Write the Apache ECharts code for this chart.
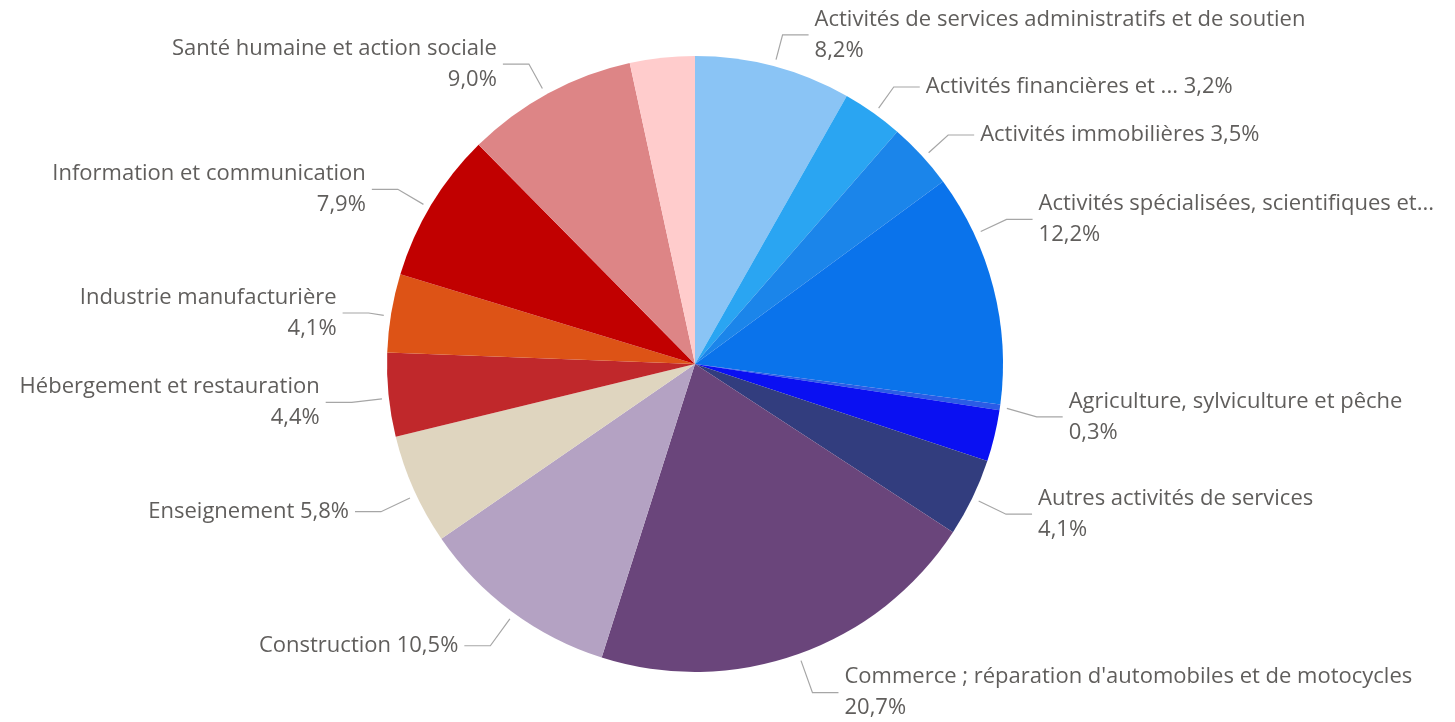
<!DOCTYPE html>
<html>
<head>
<meta charset="utf-8">
<script src="https://cdn.jsdelivr.net/npm/echarts@6/dist/echarts.min.js"></script>
<style>
html,body{margin:0;padding:0;background:#fff;}
#chart{width:1455px;height:722px;}
</style>
</head>
<body>
<div id="chart"></div>
<script>
// Categories (as displayed), values in %, and label presentation
const categories = [
  "Activités de services administratifs et de soutien",
  "Activités financières et ...",
  "Activités immobilières",
  "Activités spécialisées, scientifiques et...",
  "Agriculture, sylviculture et pêche",
  "Arts, spectacles et activités récréatives",
  "Autres activités de services",
  "Commerce ; réparation d'automobiles et de motocycles",
  "Construction",
  "Enseignement",
  "Hébergement et restauration",
  "Industrie manufacturière",
  "Information et communication",
  "Santé humaine et action sociale",
  "Transports et entreposage"
];
const values = [8.2, 3.2, 3.5, 12.2, 0.3, 2.7, 4.1, 20.7, 10.5, 5.8, 4.4, 4.1, 7.9, 9.0, 3.4];
const colors = ["#8AC4F5", "#2AA5F2", "#1B85EA", "#0A73EB", "#2A5CE6", "#0A10F2", "#323D7E",
  "#6A457B", "#B4A2C3", "#DFD5BF", "#C0282B", "#DD5316", "#C10000", "#DD8586", "#FFCCCC"];
const labelShown = [true, true, true, true, true, false, true, true, true, true, true, true, true, true, false];
const labelTwoLines = [true, false, false, true, true, false, true, true, false, false, true, true, true, true, false];

// label layout nudges (px), presentation only
const labelNudgeY = [-8, -6, -4, -62, 6, 0, 6, 16, 15, 12, 5, 4, -3, -8, 0];
const labelNudgeX = [4, 8, 10, -9, 14, 0, 13, 7, -8, -12, -14, 0, -14, -9, 0];

const fmt = v => v.toFixed(1).replace('.', ',') + '%';

const data = categories.map((c, i) => ({
  name: c,
  value: values[i],
  itemStyle: { color: colors[i] },
  label: { show: labelShown[i] },
  labelLine: { show: labelShown[i] }
}));

const CX = 695, CY = 364, R = 308;
const GAP = 6, LEN2 = 26, OUT = 7;
// slice angle ranges (radians, clockwise from 12 o'clock) derived from values
const total = values.reduce((a, b) => a + b, 0);
const sliceRange = [];
{
  let acc = 0;
  values.forEach(v => {
    const a0 = acc / total * 2 * Math.PI;
    acc += v;
    const a1 = acc / total * 2 * Math.PI;
    sliceRange.push([a0, a1]);
  });
}

const chart = echarts.init(document.getElementById('chart'), null, { renderer: 'canvas' });
chart.setOption({
  backgroundColor: '#ffffff',
  animation: false,
  series: [{
    type: 'pie',
    center: [CX, CY],
    radius: R,
    startAngle: 90,
    clockwise: true,
    avoidLabelOverlap: true,
    data: data,
    label: {
      show: true,
      position: 'outside',
      fontFamily: 'Open Sans',
      fontSize: 22,
      color: '#605E5C',
      lineHeight: 31,
      formatter: p => p.name + (labelTwoLines[p.dataIndex] ? '\n' : ' ') + fmt(p.value)
    },
    labelLine: {
      show: true,
      length: 24,
      length2: 26,
      lineStyle: { color: '#A6A6A6', width: 1.2 }
    },
    labelLayout: p => {
      const r = p.labelRect;
      const i = p.dataIndex;
      const right = r.x > CX;
      const nx = labelNudgeX[i] || 0, ny = labelNudgeY[i] || 0;
      const midY = r.y + r.height / 2 + ny;
      const edgeX = right ? r.x + nx - GAP : r.x + r.width + nx + GAP;
      const turnX = right ? edgeX - LEN2 : edgeX + LEN2;
      // start point on the slice's outer edge, toward the turn point
      let ang = Math.atan2(turnX - CX, -(midY - CY));
      if (ang < 0) ang += 2 * Math.PI;
      const [a0, a1] = sliceRange[i];
      const m = Math.min(0.02, (a1 - a0) / 2);
      ang = Math.max(a0 + m, Math.min(a1 - m, ang));
      const sx = CX + (R + OUT) * Math.sin(ang);
      const sy = CY - (R + OUT) * Math.cos(ang);
      return {
        x: (right ? r.x : r.x + r.width) + nx,
        y: midY,
        labelLinePoints: [[sx, sy], [turnX, midY], [edgeX, midY]]
      };
    }
  }]
});
</script>
</body>
</html>
